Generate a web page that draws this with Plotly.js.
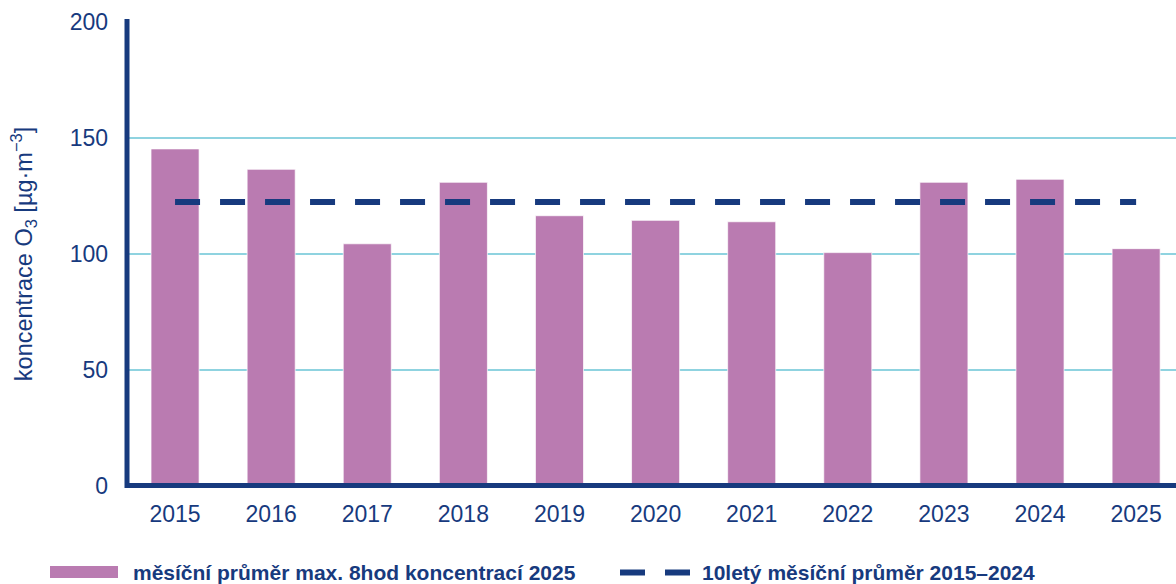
<!DOCTYPE html>
<html>
<head>
<meta charset="utf-8">
<script src="https://cdn.plot.ly/plotly-3.0.1.min.js"></script>
<style>html,body{margin:0;padding:0;background:#fff;}#chart{width:1176px;height:584px;}</style>
</head>
<body>
<div id="chart"></div>
<script>
const years = ['2015','2016','2017','2018','2019','2020','2021','2022','2023','2024','2025'];
const monthlyValues = [145.3, 136.5, 104.4, 130.9, 116.5, 114.5, 113.9, 100.6, 130.9, 132.2, 102.3];
const tenYearAvg = [122.4, 122.4, 122.4, 122.4, 122.4, 122.4, 122.4, 122.4, 122.4, 122.4, 122.4];
const yTicks = [0, 50, 100, 150, 200];
const barName = 'měsíční průměr max. 8hod koncentrací 2025';
const lineName = '10letý měsíční průměr 2015–2024';
const yTitle = 'koncentrace O<sub>3</sub> [µg·m<sup>−3</sup>]';

const NAVY = '#173a7e';
const PINK = '#ba7bb1';
const GRID = '#8fd3e0';

const traces = [
  {type:'bar', x: years, y: monthlyValues, name: barName, width: 0.5,
   marker:{color: PINK, line:{color:'rgba(255,255,255,0.7)', width:1}}, showlegend:false, hoverinfo:'skip'},
  {type:'scatter', mode:'lines', x: years, y: tenYearAvg, name: lineName,
   line:{color: NAVY, width:6, dash:'25px,20px'}, showlegend:false, hoverinfo:'skip'}
];

const W = 1049, H = 464, X0 = 127, YB = 486;
const px = v => (v - X0) / W;
const py = v => (YB - v) / H;

const layout = {
  width:1176, height:584,
  margin:{l:127, r:0, t:22, b:98},
  paper_bgcolor:'#fff', plot_bgcolor:'#fff',
  font:{family:'"Liberation Sans", Arial, sans-serif', color: NAVY},
  xaxis:{type:'category', range:[-0.5, 10.415], showgrid:false, zeroline:false,
    showline:false, ticks:'', ticklabelstandoff:12,
    tickfont:{size:23, color:NAVY}},
  yaxis:{range:[0,200], tickvals:yTicks, showgrid:true, gridcolor:GRID, gridwidth:1.5,
    zeroline:false, showline:false, ticks:'', ticklabelstandoff:18,
    tickfont:{size:23, color:NAVY},
    title:{text:yTitle, font:{size:23.5, color:NAVY}, standoff:30}},
  shapes:[
    {type:'line', xref:'paper', yref:'paper', x0:0, x1:1, y0:py(485.5), y1:py(485.5),
     line:{color:NAVY, width:5}},
    {type:'line', xref:'paper', yref:'paper', x0:0, x1:0, y0:py(488), y1:py(19),
     line:{color:NAVY, width:5}},
    {type:'rect', xref:'paper', yref:'paper', x0:px(50), x1:px(118), y0:py(566), y1:py(578),
     fillcolor:PINK, line:{width:0}},
    {type:'line', xref:'paper', yref:'paper', x0:px(620), x1:px(645), y0:py(572.5), y1:py(572.5),
     line:{color:NAVY, width:6}},
    {type:'line', xref:'paper', yref:'paper', x0:px(665), x1:px(690), y0:py(572.5), y1:py(572.5),
     line:{color:NAVY, width:6}}
  ],
  annotations:[
    {xref:'paper', yref:'paper', x:px(131), y:py(572), xanchor:'left', yanchor:'middle', showarrow:false,
     text:'<b>'+barName+'</b>', font:{size:21, color:NAVY, family:'"Liberation Sans", Arial, sans-serif'}},
    {xref:'paper', yref:'paper', x:px(700), y:py(572), xanchor:'left', yanchor:'middle', showarrow:false,
     text:'<b>'+lineName+'</b>', font:{size:21, color:NAVY, family:'"Liberation Sans", Arial, sans-serif'}}
  ],
  showlegend:false
};

Plotly.newPlot('chart', traces, layout, {staticPlot:true, displayModeBar:false});
</script>
</body>
</html>
